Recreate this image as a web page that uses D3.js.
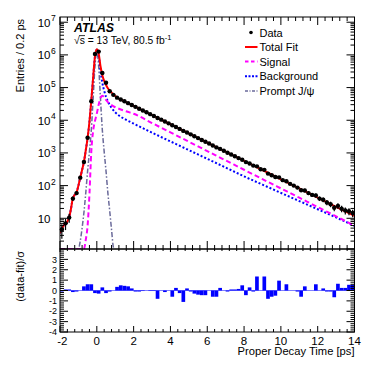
<!DOCTYPE html>
<html>
<head>
<meta charset="utf-8">
<script src="https://cdn.jsdelivr.net/npm/d3@7"></script>
<style>
  body { margin: 0; background: #fff; }
  text { font-family: "Liberation Sans", Arial, Helvetica, sans-serif; }
</style>
</head>
<body>
<div id="chart"></div>
<script>
// bin centres (0.2 ps bins)
const binCenters = [-1.9, -1.7, -1.5, -1.3, -1.1, -0.9, -0.7, -0.5, -0.3, -0.1,
  0.1, 0.3, 0.5, 0.7, 0.9, 1.1, 1.3, 1.5, 1.7, 1.9,
  2.1, 2.3, 2.5, 2.7, 2.9, 3.1, 3.3, 3.5, 3.7, 3.9,
  4.1, 4.3, 4.5, 4.7, 4.9, 5.1, 5.3, 5.5, 5.7, 5.9,
  6.1, 6.3, 6.5, 6.7, 6.9, 7.1, 7.3, 7.5, 7.7, 7.9,
  8.1, 8.3, 8.5, 8.7, 8.9, 9.1, 9.3, 9.5, 9.7, 9.9,
  10.1, 10.3, 10.5, 10.7, 10.9, 11.1, 11.3, 11.5, 11.7, 11.9,
  12.1, 12.3, 12.5, 12.7, 12.9, 13.1, 13.3, 13.5, 13.7, 13.9];

// entries per bin
const dataCounts = [4.5, 7, 10.5, 40, 59, 175, 530, 2900, 38000, 1070000,
  1260000, 280000, 140000, 77000, 60000, 49200, 43250, 38000, 33400, 29300,
  25700, 22600, 19900, 17500, 15350, 13500, 11770, 10430, 9150, 8050,
  7030, 6240, 5440, 4720, 4230, 3700, 3240, 2840, 2500, 2190,
  1940, 1685, 1477, 1330, 1160, 1017, 898, 789, 695, 619,
  524, 475, 410, 388, 318, 303, 233, 207, 183, 179,
  147, 136, 113, 100, 87, 72, 71, 59, 52, 50,
  40, 37, 30.5, 27, 21, 24, 19.6, 17.3, 16.4, 14.5];

// (data-fit)/sigma per bin
const pulls = [-0.1, 0.1, 0.1, -0.15, -0.1, 0.0, 0.4, 0.6, 0.6, -0.25,
  -0.3, 0.3, -0.25, -0.1, 0.0, 0.35, 0.5, 0.45, 0.4, 0.2,
  -0.1, -0.1, -0.05, 0.0, -0.05, -0.05, -0.8, 0.0, -0.15, 0.0,
  -0.6, 0.25, -0.25, -1.1, 0.2, -0.1, -0.3, -0.4, -0.45, -0.45,
  0.0, -0.6, -0.6, 0.25, 0.0, -0.1, 0.1, 0.1, 0.15, 0.5,
  -0.45, 0.3, -0.1, 1.35, 0.0, 1.35, -0.8, -0.6, -0.5, 0.95,
  0.0, 0.6, 0.0, 0.0, -0.1, -0.6, 0.4, 0.0, 0.0, 0.6,
  0.0, 0.2, -0.1, -0.1, -0.65, 0.65, 0.25, 0.25, 0.55, 0.55];

// fit curves
const fitT = [-2.0, -1.8, -1.6, -1.5, -1.4, -1.3, -1.2, -1.1, -1.0, -0.9,
  -0.8, -0.7, -0.6, -0.5, -0.4, -0.3, -0.2, -0.1, 0.0, 0.1,
  0.2, 0.3, 0.4, 0.5, 0.6, 0.8, 1.0, 1.2, 1.5, 2,
  3, 4, 5, 6, 7, 8, 9, 10, 11, 12, 13, 14];
const totalFit = [3.5, 6, 8, 11, 20, 42, 52, 62, 100, 175,
  300, 530, 1200, 2900, 9000, 40000, 200000, 900000, 1500000, 1100000,
  450000, 240000, 160000, 120000, 95000, 71000, 55000, 46000, 38000, 27500,
  14400, 7550, 3950, 2070, 1090, 570, 300, 156, 82, 43, 22.5, 11.8];
const backgroundFit = [3.5, 6, 8, 11, 20, 42, 52, 62, 100, 175,
  300, 530, 1200, 2900, 9000, 39000, 195000, 880000, 1450000, 1000000,
  330000, 140000, 80000, 52000, 38000, 24000, 17500, 14000, 11000, 7900,
  4170, 2250, 1220, 660, 357, 192, 107, 60, 33.6, 18.9, 10.6, 5.9];

const sigT = [-2.0, -0.7, -0.6, -0.5, -0.4, -0.3, -0.2, -0.1, 0.0, 0.1,
  0.2, 0.3, 0.4, 0.5, 0.6, 0.8, 1.0, 1.2, 1.5, 2,
  3, 4, 5, 6, 7, 8, 9, 10, 11, 12, 13, 14];
const signalFit = [0.5, 1.1, 2.2, 6, 55, 1100, 4700, 9500, 16000, 30000,
  48000, 56000, 50000, 42000, 36000, 29000, 25000, 22500, 19500, 15800,
  8200, 4250, 2200, 1140, 590, 306, 158, 82, 42.6, 22, 11.5, 5.9];

const promptT = [-2.0, -1.0, -0.9, -0.8, -0.7, -0.6, -0.5, -0.4, -0.3, -0.2,
  -0.1, 0.0, 0.1, 0.2, 0.3, 0.4, 0.5, 0.6, 0.7, 0.8, 0.9, 0.95];
const promptFit = [0.5, 1.0, 2.0, 5, 15, 60, 280, 1100, 5000, 45000,
  450000, 1300000, 450000, 45000, 5000, 1100, 280, 60, 17, 4.5, 1.3, 0.5];

const xTicks = [-2, 0, 2, 4, 6, 8, 10, 12, 14];
const yDecades = [1, 2, 3, 4, 5, 6, 7];
const pullTicks = [-4, -3, -2, -1, 0, 1, 2, 3];

const legendItems = ["Data", "Total Fit", "Signal", "Background", "Prompt J/\u03c8"];

// layout
let svgWidth = 374;
let svgHeight = 372;
let left = 60, right = 354.5;
let topY = 17, midY = 249, botY = 332;

let svg = d3.select("#chart").append("svg")
  .attr("width", svgWidth)
  .attr("height", svgHeight);

let x = d3.scaleLinear().domain([-2, 14]).range([left, right]);
let y = d3.scaleLog().domain([1.148, 1.445e7]).range([midY, topY]).clamp(true);
let yr = d3.scaleLinear().domain([-4, 4]).range([botY, midY]);

svg.append("defs").append("clipPath").attr("id", "clipTop")
  .append("rect")
  .attr("x", left).attr("y", topY)
  .attr("width", right - left).attr("height", midY - topY);

// curves
let line = d3.line()
  .x(d => x(d[0]))
  .y(d => y(d[1]))
  .curve(d3.curveMonotoneX);

let curves = svg.append("g").attr("clip-path", "url(#clipTop)");

function addCurve(ts, vals, color, width, dash) {
  curves.append("path")
    .datum(ts.map((t, i) => [t, vals[i]]))
    .attr("d", line)
    .attr("fill", "none")
    .attr("stroke", color)
    .attr("stroke-width", width)
    .attr("stroke-dasharray", dash);
}

addCurve(promptT, promptFit, "#6a6a9a", 1.5, "5,2,1.5,2");
addCurve(fitT, backgroundFit, "#0000ff", 2, "2,2");
addCurve(sigT, signalFit, "#ff00ff", 2, "5,3");
addCurve(fitT, totalFit, "#ff0000", 2, null);

// data points with errors
let pts = svg.append("g");
binCenters.forEach((c, i) => {
  let n = dataCounts[i];
  let e = Math.sqrt(n);
  pts.append("line")
    .attr("x1", x(c)).attr("x2", x(c))
    .attr("y1", y(n + e)).attr("y2", y(Math.max(n - e, 0.01)))
    .attr("stroke", "black").attr("stroke-width", 1.2);
  pts.append("line")
    .attr("x1", x(c - 0.1)).attr("x2", x(c + 0.1))
    .attr("y1", y(n)).attr("y2", y(n))
    .attr("stroke", "black").attr("stroke-width", 1.2);
  pts.append("circle")
    .attr("cx", x(c)).attr("cy", y(n)).attr("r", 2.2)
    .attr("fill", "black");
});

// pull histogram
let pullG = svg.append("g");
pullG.append("line")
  .attr("x1", left).attr("x2", right)
  .attr("y1", yr(0)).attr("y2", yr(0))
  .attr("stroke", "#7f7fff").attr("stroke-width", 1);
pullG.selectAll("rect")
  .data(pulls)
  .join("rect")
  .attr("x", (p, i) => x(binCenters[i] - 0.1))
  .attr("width", (p, i) => x(binCenters[i] + 0.1) - x(binCenters[i] - 0.1))
  .attr("y", p => yr(Math.max(p, 0)))
  .attr("height", p => Math.abs(yr(p) - yr(0)))
  .attr("fill", "#0000ff");

// frames
let axes = svg.append("g").attr("stroke", "black").attr("stroke-width", 1);
axes.append("rect")
  .attr("x", left).attr("y", topY)
  .attr("width", right - left).attr("height", midY - topY)
  .attr("fill", "none");
axes.append("rect")
  .attr("x", left).attr("y", midY)
  .attr("width", right - left).attr("height", botY - midY)
  .attr("fill", "none");

function tick(x1, y1, x2, y2) {
  axes.append("line").attr("x1", x1).attr("y1", y1).attr("x2", x2).attr("y2", y2);
}

// x ticks (both panels, both edges)
d3.range(-2, 14.001, 0.4).forEach(v => {
  let isMajor = Math.abs(v / 2 - Math.round(v / 2)) < 1e-6;
  let px = x(v);
  let lt = isMajor ? 8 : 4;
  tick(px, midY, px, midY - lt);
  tick(px, topY, px, topY + lt);
  let lb = isMajor ? 6 : 3;
  tick(px, botY, px, botY - lb);
  tick(px, midY, px, midY + (isMajor ? 3 : 2));
});

// log y ticks
for (let d = 0; d <= 7; d++) {
  for (let m = 1; m <= 9; m++) {
    let v = m * Math.pow(10, d);
    if (v < 1.148 || v > 1.445e7) continue;
    let py = y(v);
    let lt = m === 1 ? 8 : 4;
    tick(left, py, left + lt, py);
    tick(right, py, right - lt, py);
  }
}

// pull y ticks
d3.range(-4, 4.001, 0.2).forEach(v => {
  let isMajor = Math.abs(v - Math.round(v)) < 1e-6;
  let py = yr(v);
  let lt = isMajor ? 8 : 4;
  tick(left, py, left + lt, py);
  tick(right, py, right - lt, py);
});

// labels
let labels = svg.append("g").attr("fill", "black");

xTicks.forEach(v => {
  labels.append("text")
    .attr("x", x(v) + (v < 0 ? 2.3 : 0)).attr("y", 344.5)
    .attr("text-anchor", "middle")
    .attr("font-size", 11.5)
    .text(String(v));
});

yDecades.forEach(d => {
  let py = y(Math.pow(10, d));
  labels.append("text")
    .attr("x", 50.5).attr("y", py + 4.3)
    .attr("text-anchor", "end")
    .attr("font-size", 11.5)
    .text("10");
  if (d > 1) {
    labels.append("text")
      .attr("x", 51).attr("y", py - 0.8)
      .attr("font-size", 8.5)
      .text(String(d));
  }
});

pullTicks.forEach(v => {
  labels.append("text")
    .attr("x", 57).attr("y", yr(v) + 3.2)
    .attr("text-anchor", "end")
    .attr("font-size", 9)
    .text(String(v));
});

labels.append("text")
  .attr("transform", "translate(24,19) rotate(-90)")
  .attr("text-anchor", "end")
  .attr("font-size", 11)
  .text("Entries / 0.2 ps");

labels.append("text")
  .attr("transform", "translate(24,251) rotate(-90)")
  .attr("text-anchor", "end")
  .attr("font-size", 11)
  .text("(data-fit)/\u03c3");

labels.append("text")
  .attr("x", right).attr("y", 355)
  .attr("text-anchor", "end")
  .attr("font-size", 11.2)
  .text("Proper Decay Time [ps]");

// ATLAS label
labels.append("text")
  .attr("x", 74).attr("y", 31.5)
  .attr("font-size", 12.3)
  .attr("font-weight", "bold")
  .attr("font-style", "italic")
  .text("ATLAS");

let lumi = labels.append("text")
  .attr("x", 74).attr("y", 44)
  .attr("font-size", 10.3);
lumi.append("tspan").text("\u221as = 13 TeV, 80.5 fb");
lumi.append("tspan").attr("dy", -4).attr("font-size", 7.5).text("-1");
// bar over the s of the root sign
labels.append("line")
  .attr("x1", 79).attr("x2", 85).attr("y1", 35.6).attr("y2", 35.6)
  .attr("stroke", "black").attr("stroke-width", 0.8);

// legend
let legY = [32.5, 47, 61.5, 76.3, 91];
let leg = svg.append("g");
legendItems.forEach((name, i) => {
  leg.append("text")
    .attr("x", 259.5).attr("y", legY[i] + 4)
    .attr("font-size", 11)
    .text(name);
});
leg.append("circle").attr("cx", 251).attr("cy", legY[0]).attr("r", 1.8).attr("fill", "black");
leg.append("line").attr("x1", 245).attr("x2", 257.5).attr("y1", legY[1]).attr("y2", legY[1])
  .attr("stroke", "#ff0000").attr("stroke-width", 2);
leg.append("line").attr("x1", 245).attr("x2", 257.5).attr("y1", legY[2]).attr("y2", legY[2])
  .attr("stroke", "#ff00ff").attr("stroke-width", 2).attr("stroke-dasharray", "3.5,2.5");
leg.append("line").attr("x1", 245).attr("x2", 257.5).attr("y1", legY[3]).attr("y2", legY[3])
  .attr("stroke", "#0000ff").attr("stroke-width", 2).attr("stroke-dasharray", "2,1.5");
leg.append("line").attr("x1", 245).attr("x2", 257.5).attr("y1", legY[4]).attr("y2", legY[4])
  .attr("stroke", "#6a6a9a").attr("stroke-width", 1.5).attr("stroke-dasharray", "3,1.5,1,1.5");
</script>
</body>
</html>
